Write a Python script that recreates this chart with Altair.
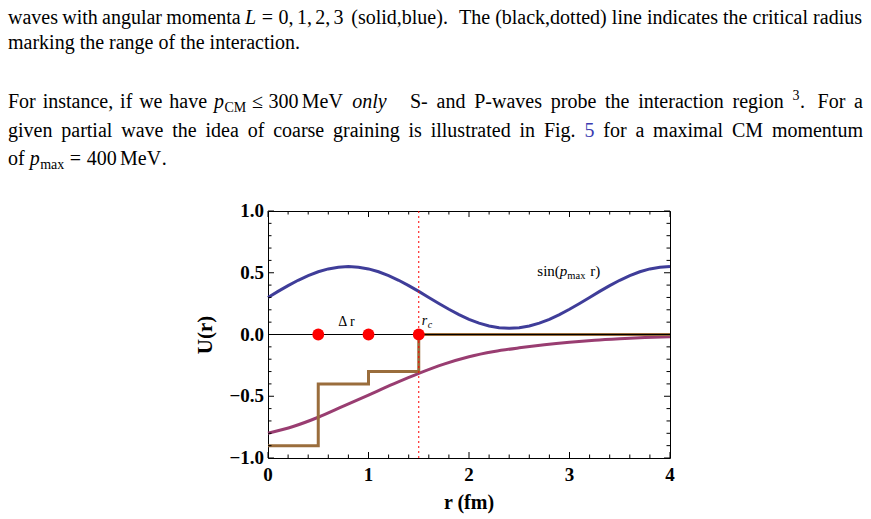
import altair as alt
import pandas as pd

# ---------------- data ----------------
R_FINE = [0.0, 0.1, 0.2, 0.3, 0.4, 0.5, 0.6, 0.7, 0.8, 0.9, 1.0, 1.1, 1.2, 1.3, 1.4, 1.5,
          1.6, 1.7, 1.8, 1.9, 2.0, 2.1, 2.2, 2.3, 2.4, 2.5, 2.6, 2.7, 2.8, 2.9, 3.0, 3.1,
          3.2, 3.3, 3.4, 3.5, 3.6, 3.7, 3.8, 3.9, 4.0]
SIN_U = [0.300, 0.349, 0.396, 0.439, 0.477, 0.508, 0.531, 0.545, 0.550, 0.545, 0.531,
         0.508, 0.477, 0.439, 0.396, 0.349, 0.300, 0.251, 0.204, 0.161, 0.123, 0.092,
         0.069, 0.055, 0.050, 0.055, 0.069, 0.092, 0.123, 0.161, 0.204, 0.251, 0.300,
         0.349, 0.396, 0.439, 0.477, 0.508, 0.531, 0.545, 0.550]

R_POT = [0.0, 0.25, 0.5, 0.75, 1.0, 1.25, 1.5, 1.75, 2.0, 2.25, 2.5, 2.75, 3.0, 3.25, 3.5, 3.75, 4.0]
POT_U = [-0.80, -0.745, -0.67, -0.58, -0.49, -0.40, -0.315, -0.24, -0.18, -0.138, -0.108,
         -0.083, -0.063, -0.047, -0.035, -0.025, -0.018]

STEP_R = [0.0, 0.5, 1.0, 1.5, 4.0]
STEP_U = [-0.9, -0.4, -0.3, 0.0, 0.0]

DOT_R = [0.5, 1.0, 1.5]
DOT_U = [0.0, 0.0, 0.0]

R_C = 1.5

X_LABELS = [0, 1, 2, 3, 4]
Y_LABELS = [-1.0, -0.5, 0.0, 0.5, 1.0]
X_MINOR = [0.2, 0.4, 0.6, 0.8, 1.2, 1.4, 1.6, 1.8, 2.2, 2.4, 2.6, 2.8, 3.2, 3.4, 3.6, 3.8]
Y_MINOR = [-0.9, -0.8, -0.7, -0.6, -0.4, -0.3, -0.2, -0.1, 0.1, 0.2, 0.3, 0.4, 0.6, 0.7, 0.8, 0.9]

# ---------------- layout ----------------
OX, OY = 268, 211          # plot-area origin in the page
W, H = 402, 247            # plot-area size
PAGE_W, PAGE_H = 871, 519

SERIF = "Liberation Serif"
C_BLUE = "#3f3d99"
C_PURPLE = "#993d71"
C_BROWN = "#9a6d3c"
C_LINK = "#3b3bb0"

xs = alt.Scale(domain=[0, 4], nice=False, zero=False)
ys = alt.Scale(domain=[-1, 1], nice=False, zero=False)

# ---------------- paragraph text (justified like the page) ----------------
ROMAN = {' ': 250, '(': 333, ')': 333, ',': 250, '-': 333, '.': 250, '=': 564, '\u2264': 549,
         'A': 722, 'C': 667, 'F': 556, 'L': 611, 'M': 889, 'P': 556, 'S': 556, 'T': 611, 'V': 722,
         'a': 444, 'b': 500, 'c': 444, 'd': 500, 'e': 444, 'f': 333, 'g': 500, 'h': 500, 'i': 278,
         'k': 500, 'l': 278, 'm': 778, 'n': 500, 'o': 500, 'p': 500, 'r': 333, 's': 389, 't': 278,
         'u': 500, 'v': 500, 'w': 722, 'x': 500, 'y': 500}
ITALIC = {'L': 556, 'p': 500, 'o': 500, 'n': 500, 'l': 278, 'y': 444, 'r': 389, 'c': 444}
SIZE = {'n': 20, 'i': 20, 'b': 20, 'sub': 14, 'sup': 14}


def tw(text, style):
    tab = ITALIC if style == 'i' else ROMAN
    return sum(tab.get(c, 500) for c in text) * SIZE[style] / 1000.0


def place(items, x0, x1=None):
    n = len(items)
    widths = [tw(it[0], it[1]) for it in items]
    gn, gw = [], []
    for k, it in enumerate(items):
        g = it[2] if len(it) > 2 else None
        if k == 0 or g is None:
            gn.append(0); gw.append(0)
        elif g == 'sp':
            gn.append(5); gw.append(1)
        elif g == 'ss':
            gn.append(7); gw.append(1.5)
        elif g == 'sp2':
            gn.append(10); gw.append(3)
        else:
            gn.append(g); gw.append(0)
    anchors = {0: x0}
    for k, it in enumerate(items):
        if len(it) > 3 and it[3] is not None:
            anchors[k] = it[3]
    keys = sorted(anchors)
    xs_ = [0] * n
    for ai, k in enumerate(keys):
        start = anchors[k]
        nxt = keys[ai + 1] if ai + 1 < len(keys) else None
        last = nxt if nxt is not None else n
        nat = sum(widths[k:last]) + sum(gn[k + 1:last])
        target, wsum = None, 0
        if nxt is not None:
            nat += gn[nxt]
            target = anchors[nxt] - start
            wsum = sum(gw[k + 1:nxt + 1])
        elif x1 is not None:
            target = x1 - start
            wsum = sum(gw[k + 1:n])
        extra = (target - nat) / wsum if (target is not None and wsum > 0) else 0
        x = start
        for m in range(k, last):
            if m > k:
                x += gn[m] + gw[m] * extra
            xs_[m] = x
            x += widths[m]
    return xs_


LINES = [
    (24, 8, 862, [("waves", 'n'), ("with", 'n', 'sp'), ("angular", 'n', 'sp'), ("momenta", 'n', 'sp'),
                  ("L", 'i', 'sp', 245), ("=", 'n', 5.6), ("0,", 'n', 5.6), ("1,", 'n', 3.3),
                  ("2,", 'n', 3.3), ("3", 'n', 3.3), ("(solid,blue).", 'n', 'sp'),
                  ("The", 'n', 'ss', 459), ("(black,dotted)", 'n', 'sp'), ("line", 'n', 'sp'),
                  ("indicates", 'n', 'sp'), ("the", 'n', 'sp'), ("critical", 'n', 'sp'),
                  ("radius", 'n', 'sp')]),
    (48.5, 8, None, [("marking the range of the interaction.", 'n')]),
    (108, 8, 863, [("For", 'n'), ("instance,", 'n', 'sp'), ("if", 'n', 'sp'), ("we", 'n', 'sp'),
                   ("have", 'n', 'sp'), ("p", 'i', 'sp', 214), ("CM", 'sub', 0.5), ("\u2264", 'n', 5.6),
                   ("300", 'n', 5.6), ("MeV", 'n', 3.3), ("only", 'i', 'sp'), ("S-", 'n', 'sp2', 410),
                   ("and", 'n', 'sp'), ("P-waves", 'n', 'sp'), ("probe", 'n', 'sp'), ("the", 'n', 'sp'),
                   ("interaction", 'n', 'sp'), ("region", 'n', 'sp'), ("3", 'sup', 'sp'),
                   (".", 'n', 0.5), ("For", 'n', 'ss'), ("a", 'n', 'sp')]),
    (136.5, 8, 863, [("given", 'n'), ("partial", 'n', 'sp'), ("wave", 'n', 'sp'), ("the", 'n', 'sp'),
                     ("idea", 'n', 'sp'), ("of", 'n', 'sp'), ("coarse", 'n', 'sp'), ("graining", 'n', 'sp'),
                     ("is", 'n', 'sp'), ("illustrated", 'n', 'sp'), ("in", 'n', 'sp'),
                     ("Fig.", 'n', 'sp'), ("5", 'b', 'sp'), ("for", 'n', 'sp'), ("a", 'n', 'sp'),
                     ("maximal", 'n', 'sp'), ("CM", 'n', 'sp'), ("momentum", 'n', 'sp')]),
    (165, 8, None, [("of", 'n'), ("p", 'i', 'sp'), ("max", 'sub', 0.5), ("=", 'n', 5.6),
                    ("400", 'n', 5.6), ("MeV", 'n', 3.3), (".", 'n', 0.5)]),
]

rows = {k: [] for k in SIZE}
for base, x0, x1, items in LINES:
    pos = place(items, x0, x1)
    for it, x in zip(items, pos):
        st = it[1]
        dy = 4 if st == 'sub' else (-8 if st == 'sup' else 0)
        rows[st].append({"x": x - OX, "y": base + dy - OY, "t": it[0]})


def text_layer(rs, color='black', **mk):
    return alt.Chart(pd.DataFrame(rs)).mark_text(
        align='left', baseline='alphabetic', font=SERIF, color=color, **mk
    ).encode(x=alt.X('x:Q', scale=None, axis=None),
             y=alt.Y('y:Q', scale=None, axis=None),
             text='t:N')


para_layers = [
    text_layer(rows['n'], fontSize=20),
    text_layer(rows['i'], fontSize=20, fontStyle='italic'),
    text_layer(rows['sub'], fontSize=14),
    text_layer(rows['sup'], fontSize=14),
    text_layer(rows['b'], color=C_LINK, fontSize=20),
]

# ---------------- plot ----------------
sin_df = pd.DataFrame({"r": R_FINE, "u": SIN_U})
pot_df = pd.DataFrame({"r": R_POT, "u": POT_U})
step_df = pd.DataFrame({"r": STEP_R, "u": STEP_U})
dot_df = pd.DataFrame({"r": DOT_R, "u": DOT_U})

sin_line = alt.Chart(sin_df).mark_line(color=C_BLUE, strokeWidth=3).encode(
    x=alt.X('r:Q', scale=xs, axis=None), y=alt.Y('u:Q', scale=ys, axis=None))
pot_line = alt.Chart(pot_df).mark_line(color=C_PURPLE, strokeWidth=3, interpolate='monotone').encode(
    x=alt.X('r:Q', scale=xs, axis=None), y=alt.Y('u:Q', scale=ys, axis=None))
step_line = alt.Chart(step_df).mark_line(color=C_BROWN, strokeWidth=3, interpolate='step-after').encode(
    x=alt.X('r:Q', scale=xs, axis=None), y=alt.Y('u:Q', scale=ys, axis=None))
zero_line = alt.Chart(pd.DataFrame({"u": [0.0]})).mark_rule(color='black', strokeWidth=1).encode(
    y=alt.Y('u:Q', scale=ys, axis=None))
rc_line = alt.Chart(pd.DataFrame({"r": [R_C]})).mark_rule(color='red', strokeWidth=1, strokeDash=[2, 3]).encode(
    x=alt.X('r:Q', scale=xs, axis=None))
dots = alt.Chart(dot_df).mark_circle(color='red', size=140, opacity=1).encode(
    x=alt.X('r:Q', scale=xs, axis=None), y=alt.Y('u:Q', scale=ys, axis=None))


def xtick(vals, length, top):
    y = alt.value(0) if top else alt.value(H)
    y2 = alt.value(length) if top else alt.value(H - length)
    return alt.Chart(pd.DataFrame({"r": vals})).mark_rule(color='black', strokeWidth=1).encode(
        x=alt.X('r:Q', scale=xs, axis=None), y=y, y2=y2)


def ytick(vals, length, right):
    x = alt.value(W) if right else alt.value(0)
    x2 = alt.value(W - length) if right else alt.value(length)
    return alt.Chart(pd.DataFrame({"u": vals})).mark_rule(color='black', strokeWidth=1).encode(
        y=alt.Y('u:Q', scale=ys, axis=None), x=x, x2=x2)


ticks = [xtick(X_LABELS, 6, False), xtick(X_MINOR, 3.5, False), xtick(X_LABELS, 6, True), xtick(X_MINOR, 3.5, True),
         ytick(Y_LABELS, 6, False), ytick(Y_MINOR, 3.5, False), ytick(Y_LABELS, 6, True), ytick(Y_MINOR, 3.5, True)]

# tick labels (bold serif, Mathematica style)
x_lab_df = pd.DataFrame({"r": X_LABELS, "t": [str(v) for v in X_LABELS]})
y_lab_df = pd.DataFrame({"u": Y_LABELS, "t": [("\u2212" if v < 0 else "") + "%.1f" % abs(v) for v in Y_LABELS]})
x_labels = alt.Chart(x_lab_df).mark_text(
    font=SERIF, fontSize=19, fontWeight='bold', align='center', baseline='alphabetic', color='black'
).encode(x=alt.X('r:Q', scale=xs, axis=None), y=alt.value(481 - OY), text='t:N')
y_labels = alt.Chart(y_lab_df).mark_text(
    font=SERIF, fontSize=19, fontWeight='bold', align='right', baseline='middle', color='black'
).encode(y=alt.Y('u:Q', scale=ys, axis=None), x=alt.value(-4), text='t:N')


def ann(r, u, text, size, dx=0, dy=0, style='normal', align='left'):
    return alt.Chart(pd.DataFrame({"r": [r], "u": [u], "t": [text]})).mark_text(
        font=SERIF, fontSize=size, fontStyle=style, align=align, baseline='alphabetic',
        dx=dx, dy=dy, color='black').encode(
        x=alt.X('r:Q', scale=xs, axis=None), y=alt.Y('u:Q', scale=ys, axis=None), text='t:N')


annots = [
    ann(0.78, 0.065, "\u0394 r", 14, align='center'),
    ann(1.53, 0.08, "r", 14, style='italic'),
    ann(1.53, 0.08, "c", 10, dx=6, dy=3, style='italic'),
    ann(2.68, 0.47, "sin(", 15),
    ann(2.68, 0.47, "p", 15, dx=22.5, style='italic'),
    ann(2.68, 0.47, "max", 10.5, dx=30, dy=3),
    ann(2.68, 0.47, "r)", 15, dx=53),
]

titles = [
    alt.Chart(pd.DataFrame({"t": ["U(r)"]})).mark_text(
        font=SERIF, fontSize=21, fontWeight='bold', angle=270, align='center', baseline='middle', color='black'
    ).encode(x=alt.value(206 - OX), y=alt.value(335 - OY), text='t:N'),
    alt.Chart(pd.DataFrame({"t": ["r (fm)"]})).mark_text(
        font=SERIF, fontSize=20, fontWeight='bold', align='center', baseline='alphabetic', color='black'
    ).encode(x=alt.value(469 - OX), y=alt.value(509 - OY), text='t:N'),
]

chart = alt.layer(
    sin_line, pot_line, step_line, zero_line, rc_line, dots, *ticks, x_labels, y_labels,
    *annots, *titles, *para_layers
).properties(
    width=W, height=H,
    autosize=alt.AutoSizeParams(type='none'),
    padding={"left": OX, "top": OY, "right": PAGE_W - OX - W, "bottom": PAGE_H - OY - H},
    background='white',
).configure_view(stroke='black', strokeWidth=1)

chart.save("out.html", embed_options={"renderer": "svg", "actions": False})
